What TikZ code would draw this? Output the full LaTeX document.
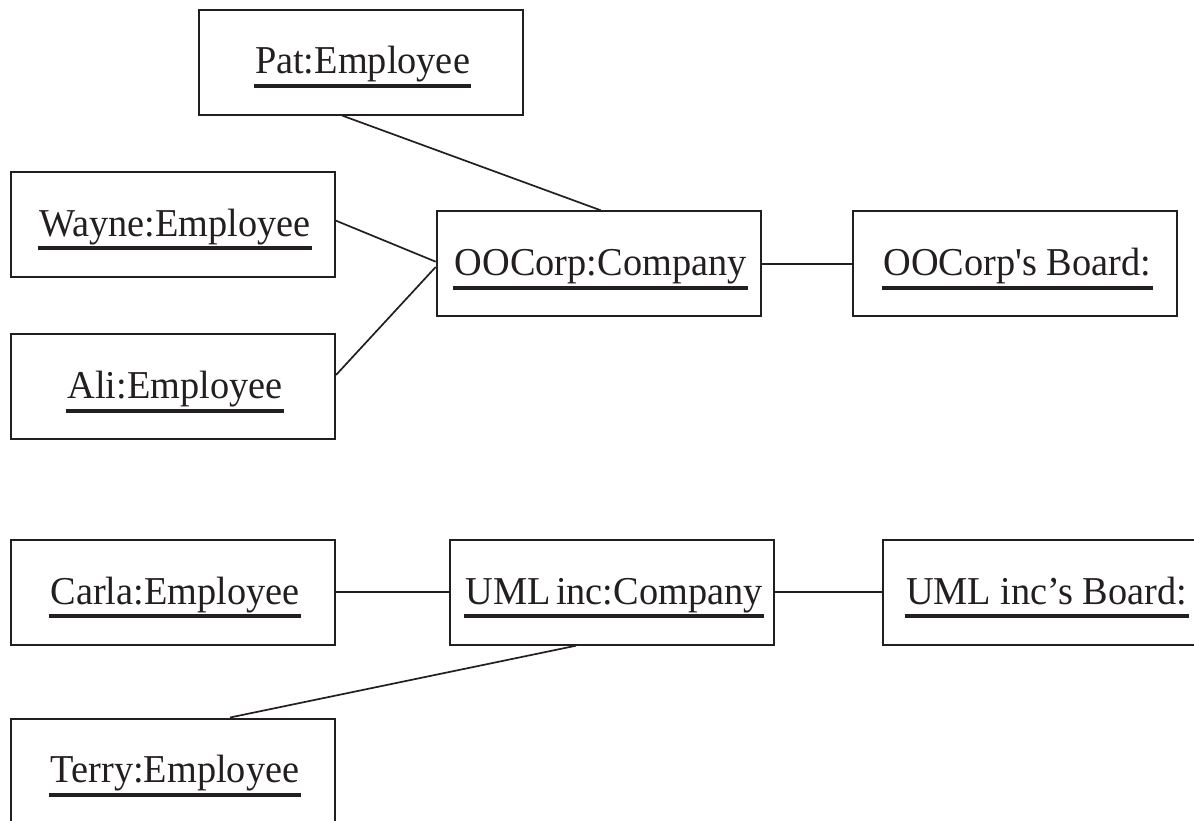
\documentclass[tikz,border=0pt]{standalone}
\usepackage{fontspec}
\setmainfont{Liberation Serif}[FakeStretch=0.97]
\newfontfamily\rawserif{Liberation Serif}[FakeStretch=0.97,Ligatures=TeXOff]
\definecolor{ink}{HTML}{231F20}
\newcommand\objname[1]{\kern4pt\setbox0=\hbox{#1}\rlap{\hspace{-1.5pt}\raisebox{-14.3pt}{\color{ink}\rule{\dimexpr\wd0+3pt\relax}{4.3pt}}}\box0}
\tikzset{
  obj/.style={draw=ink, line width=2pt, minimum width=324pt, minimum height=105pt,
    inner sep=0pt, text height=33.6pt, text depth=10pt, text=ink,
    font=\fontsize{39.5}{45}\selectfont},
  link/.style={draw=ink, line width=1.7pt}
}
\begin{document}
\begin{tikzpicture}[x=1pt,y=-1pt]
\clip (0,0) rectangle (1194,821);
\fill[white] (0,0) rectangle (1194,821);
\node[obj] (pat)    at (360.5,62.2)  {\objname{Pat:Employee}};
\node[obj] (wayne)  at (173,224.3)   {\objname{Wayne:Employee}};
\node[obj] (ali)    at (173,386.7)   {\objname{Ali:Employee}};
\node[obj] (oo)     at (598.7,263.8) {\objname{OOCorp:Company}};
\node[obj] (board1) at (1015.4,263.8){\objname{OOCorp{\rawserif'}s Board:}};
\node[obj] (carla)  at (173,592.2)   {\objname{Carla:Employee}};
\node[obj] (uml)    at (612,592.2)   {\objname{UML\hspace{5.5pt}inc:Company}};
\node[obj] (board2) at (1044.7,592.2){\objname{UML inc’s Board:}};
\node[obj] (terry)  at (173,771)     {\objname{Terry:Employee}};
\draw[link] ([xshift=-18pt]pat.south) -- ([xshift=2pt]oo.north);
\draw[link] ([yshift=3.6pt]wayne.east) -- ([yshift=2.1pt]oo.west);
\draw[link] ([yshift=11.7pt]ali.east) -- ([yshift=-3.2pt]oo.west);
\draw[link] (oo.east) -- (board1.west);
\draw[link] (carla.east) -- (uml.west);
\draw[link] (uml.east) -- (board2.west);
\draw[link] ([xshift=57pt]terry.north) -- ([xshift=-36pt]uml.south);
\end{tikzpicture}
\end{document}
